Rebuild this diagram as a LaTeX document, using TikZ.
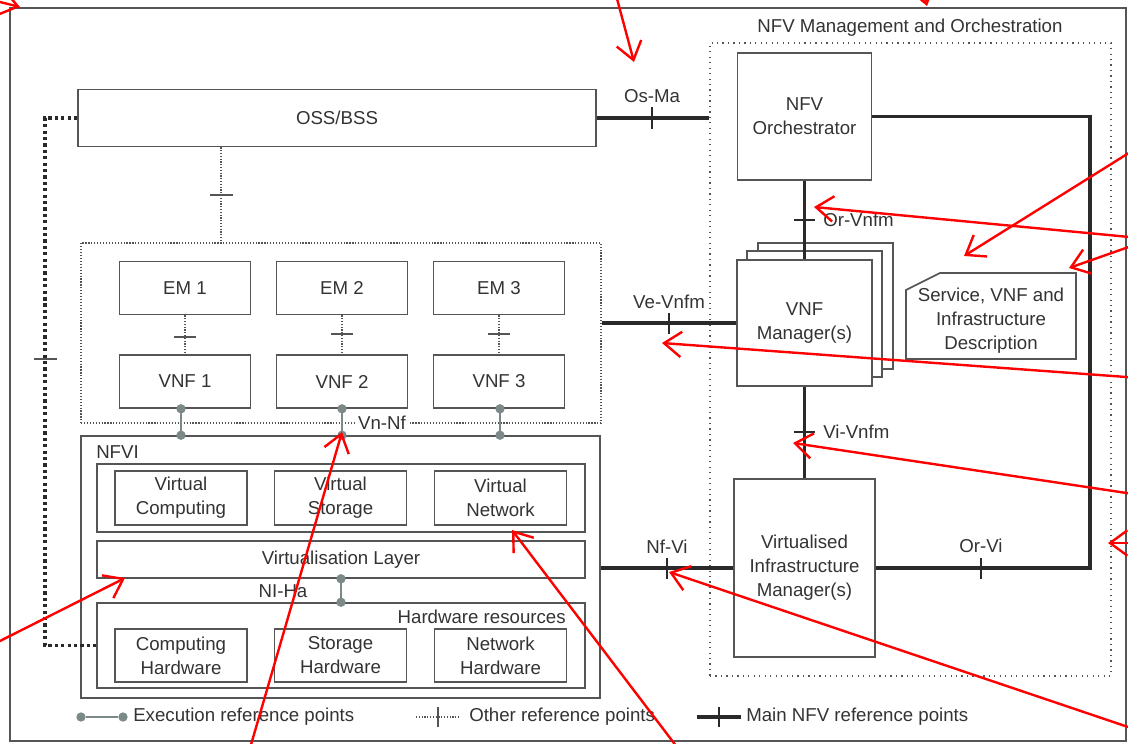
\documentclass[tikz,border=0pt]{standalone}
\usepackage{fontspec}
\setmainfont{Liberation Sans}
\usetikzlibrary{arrows.meta,calc}
\definecolor{bx}{HTML}{555555}
\definecolor{tx}{HTML}{333333}
\definecolor{mainc}{HTML}{2A2A2A}
\definecolor{exc}{HTML}{7B8989}
\begin{document}
\begin{tikzpicture}[x=0.75pt,y=-0.75pt,font=\fontsize{14}{18}\selectfont,text=tx,
  box/.style={draw=bx,line width=1.2pt,fill=white,align=center,inner sep=0pt,text=tx},
  sz/.style 2 args={minimum width=#1*0.75pt,minimum height=#2*0.75pt},
  mainln/.style={draw=mainc,line width=2.8pt},
  tk/.style={draw=mainc,line width=1pt},
  oth/.style={draw=bx,line width=0.9pt,dash pattern=on 0.9pt off 1.2pt},
  othick/.style={draw=mainc,line width=2.4pt,dash pattern=on 2.4pt off 2.4pt},
  ex/.style={draw=exc,line width=1.6pt},
  exdot/.style={circle,fill=exc,inner sep=0pt,minimum size=7pt},
  lbl/.style={inner sep=0pt,text=tx},
  redar/.style={draw=red,line width=1.8pt,-{Straight Barb[length=13pt,width=19pt]}}]
\path[use as bounding box] (0,0) rectangle (1128,743);
% frame
\draw[draw=bx,line width=1.2pt] (10,8) rectangle (1126,741);

% MANO
\node[draw=bx,line width=0.9pt,dash pattern=on 0.9pt off 3.2pt,sz={401}{633}] (mano) at (910.5,359.5) {};
\node[lbl] (manot) at (910,28) {NFV Management and Orchestration};

% OSS
\node[box,sz={518}{57}] (oss) at (337,118) {OSS/BSS};

% Orchestrator etc.
\node[box,sz={134}{127}] (orch) at (804.5,116.5) {NFV\\Orchestrator};
\node[box,sz={135}{126}] (vnfm3) at (825.5,306) {};
\node[box,sz={135}{126}] (vnfm2) at (814.5,314) {};
\node[box,sz={135}{126}] (vnfm) at (804.5,323) {VNF\\Manager(s)};
\node[box,sz={141}{178}] (vim) at (804.5,568) {Virtualised\\Infrastructure\\Manager(s)};

% description
\draw[draw=bx,line width=1.2pt,fill=white] (906,290) -- (940,273) -- (1076,273) -- (1076,359) -- (906,359) -- cycle;
\node[lbl,align=center] (desc) at (991,321) {Service, VNF and\\Infrastructure\\Description};

% VNF area
\node[draw=bx,line width=0.9pt,dash pattern=on 0.9pt off 1.3pt,sz={520}{180}] (vnfbox) at (341,333) {};
\node[box,sz={131}{53}] (em1) at (185,288) {EM 1};
\node[box,sz={131}{53}] (em2) at (342,288) {EM 2};
\node[box,sz={131}{53}] (em3) at (499,288) {EM 3};
\node[box,sz={131}{53}] (vnf1) at (185,381.5) {VNF 1};
\node[box,sz={131}{53}] (vnf2) at (342,381.5) {VNF 2};
\node[box,sz={131}{53}] (vnf3) at (499,381.5) {VNF 3};

% NFVI
\node[box,sz={519}{262}] (nfvi) at (340.5,567) {};
\node[lbl,anchor=west] (nfvit) at (96,452) {NFVI};
\node[box,sz={488}{68}] (vres) at (341,498) {};
\node[box,sz={132}{54}] (vc) at (181,498) {Virtual\\Computing};
\node[box,sz={132}{54}] (vs) at (340.5,498) {Virtual\\Storage};
\node[box,sz={132}{54}] (vn) at (500.5,498) {Virtual\\Network};
\node[box,sz={488}{37}] (vl) at (341,559.5) {Virtualisation Layer};
\node[box,sz={488}{85}] (hw) at (341,645.5) {};
\node[lbl,anchor=east] (hwt) at (566,617) {Hardware resources};
\node[box,sz={132}{53}] (ch) at (181,655.5) {Computing\\Hardware};
\node[box,sz={132}{53}] (sh) at (340.5,655.5) {Storage\\Hardware};
\node[box,sz={132}{53}] (nh) at (500.5,655.5) {Network\\Hardware};

% main reference points
\draw[mainln] (oss.east) -- (oss.east -| mano.west);
\draw[tk] (652,107) -- (652,129);
\node[lbl] (osma) at (652,96) {Os-Ma};

\coordinate (rc) at (1090,300);
\draw[mainln] (orch.east) -| (rc) |- (vim.east);
\draw[tk] (981,558) -- (981,579);
\node[lbl] (orvi) at (981,546) {Or-Vi};

\draw[mainln] (orch.south) -- (orch.south |- vnfm.north);
\draw[tk] (794,220) -- (815,220);
\node[lbl,anchor=west] (orvnfm) at (823,220) {Or-Vnfm};

\draw[mainln] (vnfm.south) -- (vnfm.south |- vim.north);
\draw[tk] (794,432) -- (815,432);
\node[lbl,anchor=west] (vivnfm) at (823,432) {Vi-Vnfm};

\draw[mainln] (vnfm.west -| vnfbox.east) -- (vnfm.west);
\draw[tk] (669,313) -- (669,334);
\node[lbl] (vevnfm) at (669,302) {Ve-Vnfm};

\draw[mainln] (vim.west -| nfvi.east) -- (vim.west);
\draw[tk] (667,558) -- (667,579);
\node[lbl] (nfvi2) at (667,547) {Nf-Vi};

% other reference points
\coordinate (ox) at (221,0);
\draw[oth] (ox |- oss.south) -- (ox |- vnfbox.north);
\draw[draw=bx,line width=1pt] (210,195) -- (233,195);
\draw[oth] (em1.south) -- (vnf1.north);
\draw[oth] (em2.south) -- (vnf2.north);
\draw[oth] (em3.south) -- (vnf3.north);
\draw[draw=bx,line width=1pt] (174,337) -- (196,337);
\draw[draw=bx,line width=1pt] (331,334) -- (353,334);
\draw[draw=bx,line width=1pt] (488,334) -- (510,334);
\coordinate (lc) at (45,300);
\draw[othick] (oss.west) -| (lc) |- (hw.west);
\draw[draw=bx,line width=1pt] (34,359) -- (57,359);

% execution reference points
\foreach \n/\x in {1/181,2/342,3/500}{
  \coordinate (ex\n) at (\x,0);
  \draw[ex] (ex\n |- vnf\n.south) -- (ex\n |- nfvi.north);
  \node[exdot] (da\n) at (ex\n |- vnf\n.south) {};
  \node[exdot] (db\n) at (ex\n |- nfvi.north) {};
}
\node[lbl,fill=white,inner xsep=2pt,inner ysep=1pt] (vnnf) at (382,423) {Vn-Nf};
\coordinate (nx) at (341,0);
\draw[ex] (nx |- vl.south) -- (nx |- hw.north);
\node[exdot] (dn1) at (nx |- vl.south) {};
\node[exdot] (dn2) at (nx |- hw.north) {};
\node[lbl] (nlha) at (283,591) {NI-Ha};

% legend
\node[exdot] (lg1a) at (81,717) {};
\node[exdot] (lg1b) at (123,717) {};
\draw[ex] (lg1a) -- (lg1b);
\node[lbl,anchor=west] (lg1t) at (133,717) {Execution reference points};
\coordinate (lg2a) at (416,717);
\coordinate (lg2b) at (460,717);
\draw[oth] (lg2a) -- (lg2b);
\draw[draw=bx,line width=1pt] (438,707) -- (438,727);
\node[lbl,anchor=west] (lg2t) at (469,717) {Other reference points};
\coordinate (lg3a) at (697,717);
\coordinate (lg3b) at (741,717);
\draw[mainln] (lg3a) -- (lg3b);
\draw[draw=mainc,line width=1.5pt] (719,707) -- (719,727);
\node[lbl,anchor=west] (lg3t) at (746,717) {Main NFV reference points};

% red annotation arrows
\begin{scope}[overlay]
\clip (0,0) rectangle (1128,743);
\draw[redar] (-40,-8) -- (20,7);
\draw[redar] (616,-5) -- (634,62);
\draw[redar] (915,-40) -- (927,6);
\draw[redar] (1140,146) -- (964,256);
\draw[redar] (1140,243) -- (1069,268);
\draw[redar] (1140,238) -- (814,207);
\draw[redar] (1140,378) -- (662,343);
\draw[redar] (1140,495) -- (793,443);
\draw[redar] (1160,543) -- (1108,543);
\draw[redar] (1140,731) -- (669,572);
\draw[redar] (683,755) -- (512,530);
\draw[redar] (248,755) -- (342,432);
\draw[redar] (-10,646) -- (125,578);
\end{scope}
\end{tikzpicture}
\end{document}
